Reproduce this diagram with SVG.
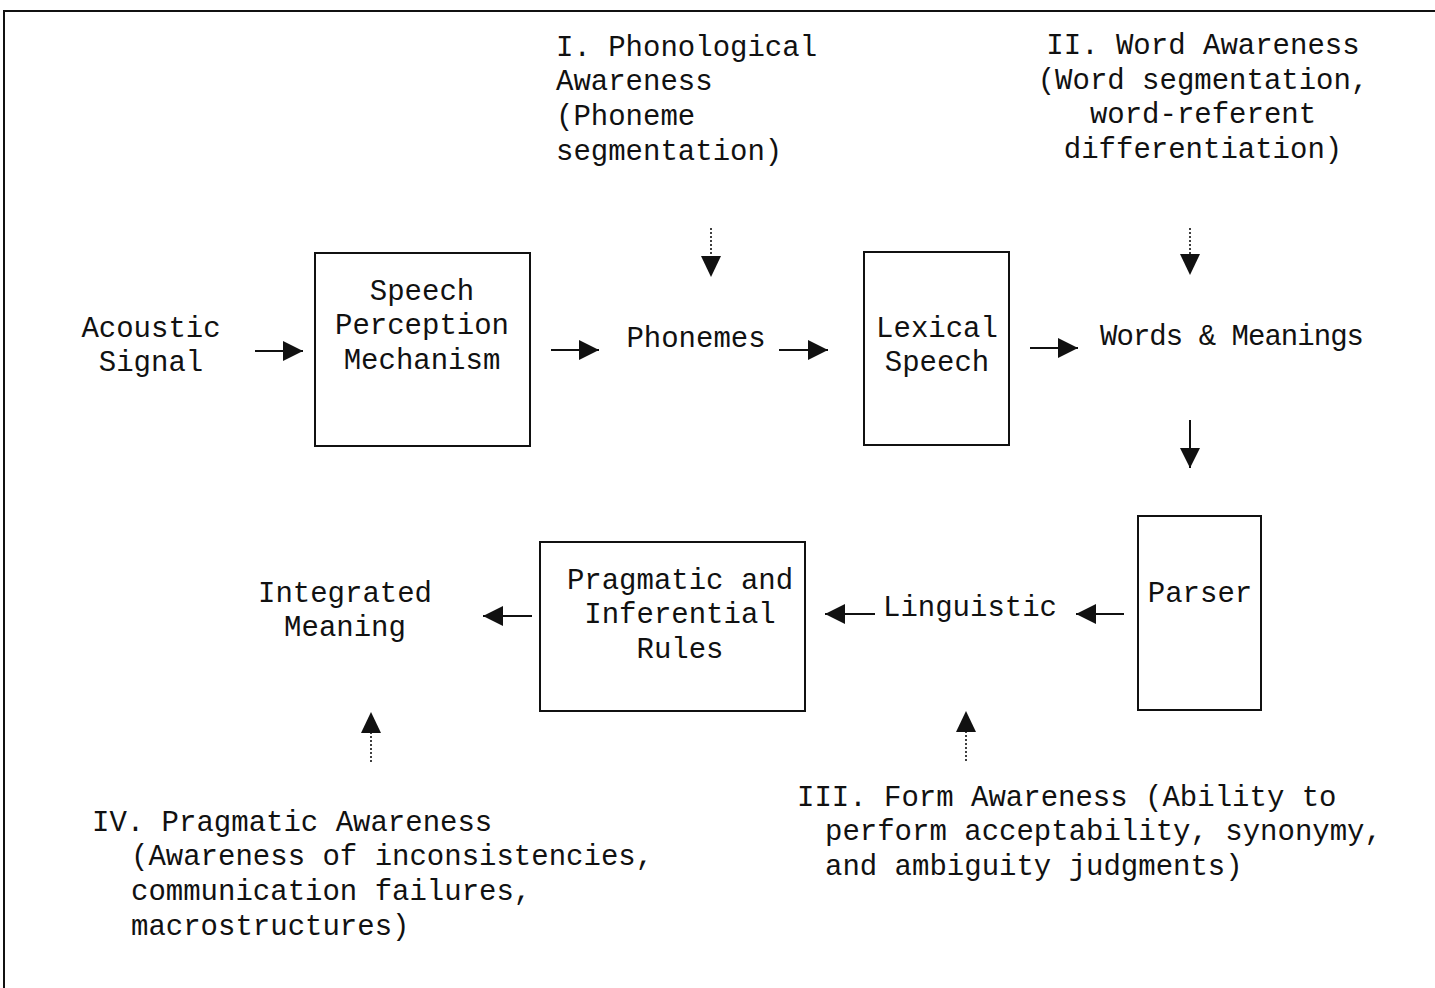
<svg xmlns="http://www.w3.org/2000/svg" width="1435" height="988" viewBox="0 0 1435 988">
<defs>
<style>
text{font-family:"Liberation Mono","Courier New",monospace;font-size:29px;fill:#111}
.m{text-anchor:middle}
.box{fill:#fff;stroke:#111;stroke-width:2}
.ln{stroke:#111;stroke-width:2;fill:none}
.dot{stroke:#111;stroke-width:1.6;stroke-dasharray:2 2;fill:none}
</style>
<marker id="ah" viewBox="0 0 20 20" refX="20" refY="10" markerWidth="20" markerHeight="20" markerUnits="userSpaceOnUse" orient="auto">
<path d="M0,0 L20,10 L0,20 Z" fill="#111"/>
</marker>
</defs>
<rect width="1435" height="988" fill="#fff"/>
<g id="frame">
<path d="M4,988 L4,11 L1435,11" class="ln"/>
</g>
<g id="connectors">
<line x1="255" y1="351" x2="303" y2="351" class="ln" marker-end="url(#ah)"/>
<line x1="551" y1="350" x2="599" y2="350" class="ln" marker-end="url(#ah)"/>
<line x1="779" y1="350" x2="828" y2="350" class="ln" marker-end="url(#ah)"/>
<line x1="1030" y1="348" x2="1078" y2="348" class="ln" marker-end="url(#ah)"/>
<line x1="1190" y1="420" x2="1190" y2="468" class="ln" marker-end="url(#ah)"/>
<line x1="1124" y1="614" x2="1076" y2="614" class="ln" marker-end="url(#ah)"/>
<line x1="875" y1="614" x2="825" y2="614" class="ln" marker-end="url(#ah)"/>
<line x1="532" y1="616" x2="483" y2="616" class="ln" marker-end="url(#ah)"/>
<line x1="711" y1="228" x2="711" y2="258" class="dot"/>
<path d="M701,256 L711,277 L721,256 Z" fill="#111"/>
<line x1="1190" y1="228" x2="1190" y2="256" class="dot"/>
<path d="M1180,254 L1190,275 L1200,254 Z" fill="#111"/>
<line x1="371" y1="732" x2="371" y2="762" class="dot"/>
<path d="M361,733 L371,712 L381,733 Z" fill="#111"/>
<line x1="966" y1="731" x2="966" y2="761" class="dot"/>
<path d="M956,732 L966,711 L976,732 Z" fill="#111"/>
</g>
<g id="phonological-awareness">
<text x="556" y="56">I. Phonological</text>
<text x="556" y="90">Awareness</text>
<text x="556" y="125">(Phoneme</text>
<text x="556" y="160">segmentation)</text>
</g>
<g id="word-awareness">
<text class="m" x="1203" y="54">II. Word Awareness</text>
<text class="m" x="1203" y="89">(Word segmentation,</text>
<text class="m" x="1203" y="123">word-referent</text>
<text class="m" x="1203" y="158">differentiation)</text>
</g>
<g id="acoustic-signal">
<text class="m" x="151" y="337">Acoustic</text>
<text class="m" x="151" y="371">Signal</text>
</g>
<g id="speech-perception">
<rect class="box" x="315" y="253" width="215" height="193"/>
<text class="m" x="422" y="300">Speech</text>
<text class="m" x="422" y="334">Perception</text>
<text class="m" x="422" y="369">Mechanism</text>
</g>
<g id="phonemes">
<text class="m" x="696" y="347">Phonemes</text>
</g>
<g id="lexical-speech">
<rect class="box" x="864" y="252" width="145" height="193"/>
<text class="m" x="937" y="337">Lexical</text>
<text class="m" x="937" y="371">Speech</text>
</g>
<g id="words-meanings">
<text class="m" x="1232" y="345" textLength="264" lengthAdjust="spacing">Words &amp; Meanings</text>
</g>
<g id="parser">
<rect class="box" x="1138" y="516" width="123" height="194"/>
<text class="m" x="1200" y="602">Parser</text>
</g>
<g id="linguistic">
<text class="m" x="970" y="616">Linguistic</text>
</g>
<g id="pragmatic-rules">
<rect class="box" x="540" y="542" width="265" height="169"/>
<text class="m" x="680" y="589">Pragmatic and</text>
<text class="m" x="680" y="623">Inferential</text>
<text class="m" x="680" y="658">Rules</text>
</g>
<g id="integrated-meaning">
<text class="m" x="345" y="602">Integrated</text>
<text class="m" x="345" y="636">Meaning</text>
</g>
<g id="pragmatic-awareness">
<text x="92" y="831">IV. Pragmatic Awareness</text>
<text x="131" y="865">(Awareness of inconsistencies,</text>
<text x="131" y="900">communication failures,</text>
<text x="131" y="935">macrostructures)</text>
</g>
<g id="form-awareness">
<text x="797" y="806">III. Form Awareness (Ability to</text>
<text x="825" y="840">perform acceptability, synonymy,</text>
<text x="825" y="875">and ambiguity judgments)</text>
</g>
</svg>
